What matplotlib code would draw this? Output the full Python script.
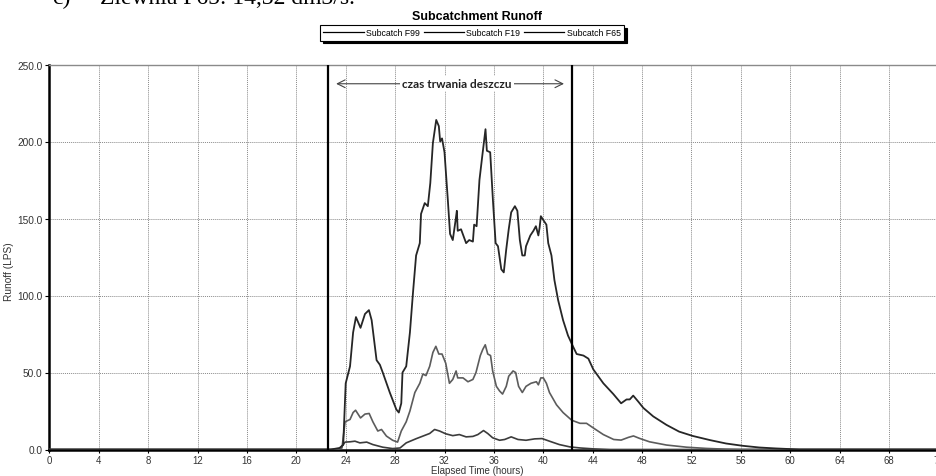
import matplotlib
matplotlib.use("Agg")
import matplotlib.pyplot as plt
from matplotlib.lines import Line2D

# Elapsed time (hours) and runoff (LPS) for each subcatchment
f99_t = [0, 22.8, 23.5, 23.8, 24.0, 24.35, 24.6, 24.83, 25.2, 25.56, 25.88, 26.1, 26.5, 26.77,
         27.0, 27.57, 28.1, 28.3, 28.5, 28.6, 28.9, 29.2, 29.45, 29.7, 30.0, 30.1, 30.4, 30.65,
         30.85, 31.06, 31.33, 31.54, 31.65, 31.8, 32.0, 32.27, 32.45, 32.67, 32.9, 33.0, 33.07,
         33.34, 33.75, 34.0, 34.3, 34.4, 34.6, 34.83, 35.05, 35.32, 35.43, 35.7, 35.92, 36.14,
         36.33, 36.6, 36.8, 37.0, 37.2, 37.4, 37.7, 37.9, 38.1, 38.3, 38.5, 38.6, 38.95, 39.2,
         39.4, 39.6, 39.7, 39.8, 40.0, 40.25, 40.4, 40.66, 40.9, 41.2, 41.6, 42.0, 42.4, 42.7,
         43.25, 43.65, 44.05, 44.86, 45.67, 46.3, 46.74, 47.0, 47.28, 47.7, 48.1, 48.9, 49.97,
         51.0, 52.1, 53.5, 54.8, 56.15, 57.5, 58.8, 60.2, 60.7, 72]
f99_q = [0, 0, 1, 3, 43, 54, 76, 86, 79, 88, 90.5, 84, 58, 55,
         50, 37, 26, 24, 30, 50, 54, 76, 102, 126, 134, 153, 160, 158,
         173, 199, 214, 210, 200, 202, 193, 162, 140, 136, 149, 155, 142,
         143, 134, 136, 135, 146, 145, 175, 190, 208, 194, 193, 162, 134,
         132, 117, 115, 130, 143, 154, 158, 155, 136, 126, 126, 132, 139, 142,
         145, 139, 144, 151.5, 149, 146, 134, 126, 110, 97, 84, 74, 67, 62,
         61, 59, 52, 43, 36, 30, 32.5, 32.5, 35, 31, 27, 21.5, 16,
         11.6, 8.8, 6.1, 3.9, 2.4, 1.3, 0.7, 0.2, 0, 0]

f19_t = [0, 22.8, 23.5, 23.7, 23.95, 24.35, 24.6, 24.8, 25.2, 25.56, 25.9, 26.2, 26.6, 26.9,
         27.3, 27.8, 28.2, 28.5, 28.9, 29.2, 29.6, 30.0, 30.25, 30.5, 30.8, 31.06, 31.3, 31.54,
         31.8, 32.1, 32.4, 32.67, 32.94, 33.07, 33.5, 33.9, 34.3, 34.55, 34.9, 35.1, 35.3, 35.5,
         35.73, 35.9, 36.2, 36.46, 36.7, 37.0, 37.2, 37.55, 37.76, 38.0, 38.3, 38.6, 39.0, 39.44,
         39.6, 39.8, 40.0, 40.25, 40.5, 41.07, 41.6, 42.3, 42.97, 43.5, 44.05, 44.86, 45.7, 46.3,
         46.9, 47.3, 47.8, 48.6, 49.97, 51.6, 53.2, 54.8, 56, 72]
f19_q = [0, 0, 0.5, 1, 18, 19.5, 24, 25.5, 20.5, 23, 23.4, 18, 12, 13,
         8.7, 6, 4.8, 12, 18, 25, 37, 43, 49, 48, 54, 63, 67, 62,
         62, 56, 43, 45.5, 51, 46.5, 46.5, 44, 45.5, 50, 61, 65, 68, 62,
         61, 51, 41, 38, 36, 41, 47.6, 51, 50, 41, 37, 41, 43, 44,
         42, 46.5, 46.5, 43, 37, 29, 24, 19, 17, 17, 14, 9.7, 6.5, 6.1,
         7.9, 8.8, 7.2, 5, 2.9, 1.5, 0.7, 0.2, 0, 0]

f65_t = [0, 23.5, 23.95, 24.35, 24.75, 25.15, 25.7, 26.2, 27.0, 27.8, 28.4, 28.9, 29.7, 30.25,
         30.8, 31.2, 31.6, 32.1, 32.67, 33.2, 33.75, 34.3, 34.7, 35.16, 35.5, 35.9, 36.46, 36.87,
         37.4, 37.95, 38.6, 39.3, 39.9, 40.5, 41.3, 42.15, 42.97, 44.05, 45.4, 72]
f65_q = [0, 0, 4.8, 5, 5.4, 4.3, 4.8, 3.2, 1.5, 0.6, 1, 4.3, 7, 8.7,
         10.4, 13, 12, 10.2, 9, 9.7, 8.2, 8.5, 9.7, 12.3, 10.4, 7.6, 6, 6.5,
         8.2, 6.5, 6, 6.9, 7.1, 5.4, 3.2, 1.7, 1, 0.4, 0, 0]

series_names = ["Subcatch F99", "Subcatch F19", "Subcatch F65"]
x_ticks = list(range(0, 73, 4))
y_ticks = [0, 50, 100, 150, 200, 250]
rain_start, rain_end = 22.6, 42.3
rain_label = "czas trwania deszczu"

small = ["Liberation Sans Narrow", "Liberation Sans", "DejaVu Sans"]

fig = plt.figure(figsize=(9.36, 4.77), dpi=100)
ax = fig.add_axes([49.3 / 936, 26.5 / 477, 889.2 / 936, 385 / 477])

ax.plot(f65_t, f65_q, color="#3c3c3c", lw=1.2, zorder=3)
ax.plot(f19_t, f19_q, color="#5c5c5c", lw=1.2, zorder=4)
ax.plot(f99_t, f99_q, color="#262626", lw=1.3, zorder=5)

# rainfall duration markers
for xv in (rain_start, rain_end):
    ax.axvline(xv, color="black", lw=1.6, zorder=6)

ax.annotate("", xy=(23.0, 237.5), xytext=(41.9, 237.5),
            arrowprops=dict(arrowstyle="<->", color="#444444", lw=0.8,
                            mutation_scale=14), zorder=7)
ax.text(33.0, 237.5, rain_label, ha="center", va="center", fontsize=8.5,
        fontweight="bold", family=["Lato", "DejaVu Sans"], color="#222222",
        bbox=dict(facecolor="white", edgecolor="none", pad=1.5), zorder=8)

ax.set_xlim(0, 72)
ax.set_ylim(0, 250)
ax.set_xticks(x_ticks)
ax.set_yticks(y_ticks)
ax.set_yticklabels([f"{v:.1f}" for v in y_ticks])
ax.grid(True, color="#8a8a8a", linestyle=(0, (1, 1)), lw=0.7)
ax.set_axisbelow(True)
ax.tick_params(axis="y", length=3, width=0.8, labelsize=7.3, pad=2, color="black")
ax.tick_params(axis="x", length=2.5, width=0.8, labelsize=6.9, pad=1.5, color="black")
for lab in ax.get_xticklabels() + ax.get_yticklabels():
    lab.set_family(small)
    lab.set_color("#333333")

ax.spines["left"].set_linewidth(1.8)
ax.spines["bottom"].set_linewidth(1.8)
ax.spines["top"].set_color("#8a8a8a")
ax.spines["top"].set_linewidth(1.0)
ax.spines["right"].set_visible(False)

ax.set_xlabel("Elapsed Time (hours)", fontsize=7.0, family=small, color="#333333")
ax.xaxis.set_label_coords((477 - 49.3) / 889.2, -(466.5 - 450.5) / 385)
ax.set_ylabel("Runoff (LPS)", fontsize=7.3, family=small, color="#333333")
ax.yaxis.set_label_coords((14 - 49.3) / 889.2, (450.5 - 272) / 385)

fig.text(477 / 936, 1 - 17 / 477, "Subcatchment Runoff", ha="center", va="center",
         fontsize=9, fontweight="bold", family=["Liberation Sans", "DejaVu Sans"])

handles = [Line2D([], [], color="black", lw=0.9) for _ in series_names]
leg = fig.legend(handles, series_names, loc="center", ncol=3,
                 bbox_to_anchor=(472 / 936, 1 - 34 / 477),
                 prop={"family": small, "size": 6.3},
                 frameon=True, fancybox=False, shadow={"color": "black", "alpha": 1},
                 edgecolor="black", handlelength=4.6, handletextpad=0.3,
                 columnspacing=0.4, borderpad=0.35, borderaxespad=0)
leg.get_frame().set_linewidth(0.8)

# caption line above the chart, cut by the top edge
fig.text(52 / 936, 1 - 4 / 477, "c)", ha="left", va="baseline", fontsize=17,
         family=["Liberation Serif", "DejaVu Serif"])
fig.text(100 / 936, 1 - 4 / 477, "Zlewnia F65: 14,32 dm3/s.", ha="left",
         va="baseline", fontsize=17, family=["Liberation Serif", "DejaVu Serif"])

fig.savefig("out.png", dpi=100)
